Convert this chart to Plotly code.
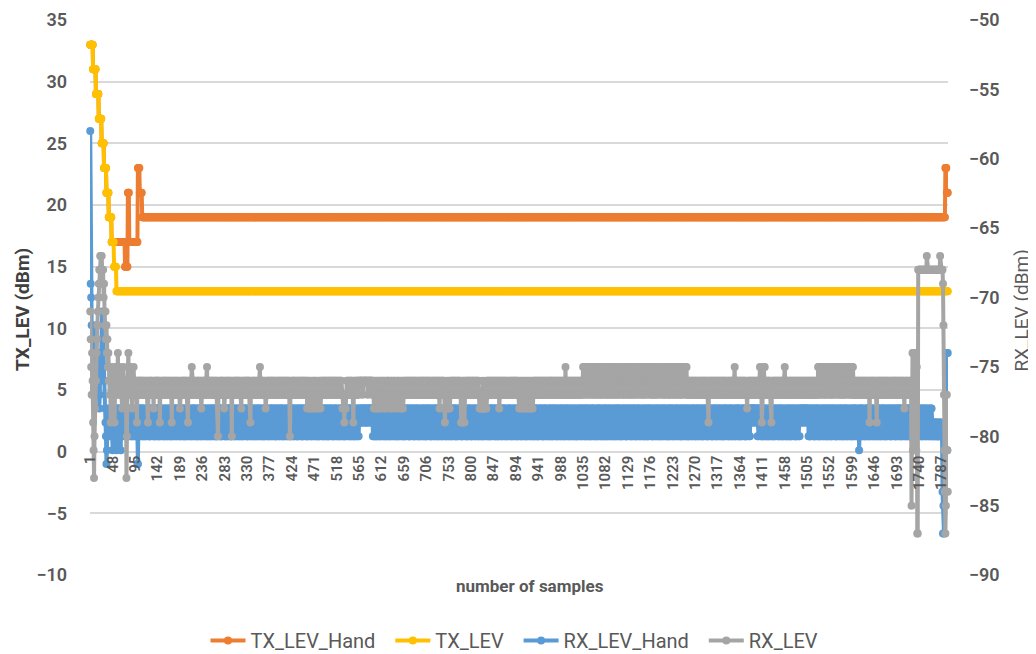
import plotly.graph_objects as go

# TX levels (left axis) as (value, number of samples) runs
TX_LEV_HAND_RUNS = [(33, 6), (31, 6), (29, 6), (27, 6), (25, 5), (23, 5), (21, 5), (19, 6),
                    (17, 28), (15, 6), (21, 3), (17, 18), (23, 4), (21, 5), (19, 1685),
                    (23, 3), (21, 3)]
TX_LEV_RUNS = [(33, 6), (31, 6), (29, 6), (27, 6), (25, 5), (23, 5), (21, 5), (19, 6),
               (17, 5), (15, 5), (13, 1745)]

# RX levels (right axis), one char per sample: dBm = -52 - int(char, 36)
# e.g. o=-76, p=-77, q=-78, r=-79, s=-80
RX_LEV_HAND_CODES = (
    "6hikl mlnom nlkmo pnmoq pnomk jklnm oqrsu trqsr qrsqp qstrq",
    "qrsqr tsqrq sqrst rqsrq qrsrq sqrsq rsrqs qrsqs rsqrs qsrqu",
    "urqsq sqrqs qsqsr sqsrq qrsqs sqsqr rqsqs sqrsq qsqrs sqsqr",
    "qsrqs sqrsq rsqsr qsqrs sqsqr srqsq qsrsq rqsqs sqrqs qsrsq",
    "sqsrq qsqsr rsqsq sqrqs qsrqs srqsq qsqsr sqrsq qsrqs rsqsq",
    "rsqsq sqrqs qsqsr sqsrq qrsqs sqsqr rqsqs sqrsq qsqrs sqsqr",
    "qsqsr sqrqs rsqsq qsrsq sqsqr qrsqs sqsqr rsqsq qsrqs sqrsq",
    "sqrsq qsrqs rsqsq sqsrq qsqsr sqrsq qsqrs rqsqs sqsqr qsrsq",
    "qsqrs sqsqr rsqsq qsrqs sqrsq qsqsr rqsqs sqsrq qrsqs sqsqr",
    "rqsqs sqsrq qsqsr sqrsq qsrqs rsqsq sqsqr qrsqs sqrqs qsqsr",
    "sqsqr qrsqs sqrsq qsqsr rsqsq sqrqs qsrsq sqsqr rqsqs qsrqs",
    "qsrqs sqrsq rsqsr qrqrq rqrqq rqrqr qrqrq qqrqr qrqsq sqsrs",
    "qsqsr rsqsq sqrqs qsrqs srqsq qsqsr sqrsq qsrqs rsqsq sqsrq",
    "sqrqs qsqsr sqsrq qrsqs sqsqr rqsqs sqrsq qsqrs sqsqr rsqsq",
    "qsrsq sqsqr qrsqs sqsqr rsqsq qsrqs sqrsq qsqsr sqrqs rsqsq",
    "rsqsq qsrsq sqrqs qsqsr sqsrq qrsqs sqsqr rqsqs sqrsq qsqrs",
    "sqsqr qsrsq rqsqs sqrqs qsqsr sqsrq qsrqs rsqsq sqsqr qrsqs",
    "qsqrs sqsqr rsqsq sqrqs qsrqs srqsq qsqsr sqrsq qsrqs rsqsq",
    "rqsqs sqrsq qsqrs sqsqr rsqsq qsrqs sqrsq qsqsr sqsrq qrsqs",
    "sqsrq qsqsr rsqsq qsrsq sqsqr qrsqs sqrqs rsqsq qsrqs sqrsq",
    "qsrqs sqrsq rsqsr qsqrs sqsqr srqsq qsrsq rqsqs sqrqs qsrsq",
    "sqsrq qsqsr rsqsq sqrqs qsrqs srqsq qsqsr sqrsq qsrqs rsqsq",
    "rsqsq sqrqs qsqsr sqsrq qrsqs sqsqr rqsqs sqrsq qsqrs sqsqr",
    "qsqsr sqrqs rsqsq qsrsq sqsqr qrsqs sqsqr rsqsq qsrqs sqrsq",
    "sqrsq qsrqs rsqsq sqsrq qsqsr sqrsq qsqrs rqsqs sqsqr qsrsq",
    "qsqrs sqsqr rsqsq qsrqs sqrsq qsqsr rqsqs sqsrq qrsqs sqsqr",
    "rqsqs sqsrq qsqsr sqrsq qsrqs rsqsq sqsqr qrsqs sqrqs qsqsr",
    "rsqsq sqrqs qsqsr sqsrq qrsqs sqsqr rqsqs qrqrq rqqrq qrqrq",
    "sqsqr qrsqs sqrsq qsqsr rsqsq sqrqs qsrsq sqsqr rqsqs qsrqs",
    "qsqsr sqrqs rsqsq qsrsq sqsqr qrsqs sqsqr rsqsq qrqrq rqrqq",
    "qrqrq rqsqs sqsqr rqsqs sqrsq qsqrs sqsqr rsqsq qsrqs sqrsq",
    "qsrsq sqsqr qrsqs sqsqr rsqsq qsrqs sqrsq qsqsr sqrqs rsqsq",
    "sqsrq qsqsr rsqtq sqrqs qsrqs srqsq qsqsr sqrsq qsrqs rsqsq",
    "rsqsq qsrsq sqrqs qsqsr sqsrq qrsqs sqsqr rqsqs sqrsq qsqrs",
    "qsqsr sqrqs rsqsq qsrsq sqsqr qrsqs sqsqr rsqsq qsrqs sqrsq",
    "qsqsr sqrqs rsqsq qsrsr srsrs rsrss srsrs rsswz xzwxt mtmtm",
)
RX_LEV_CODES = (
    "jlnpm ortvs qooml kjihg gffgf ghgih jkjlk mlnmo nporp opnop",
    "orpon opomo ponop opqon opopo pvson mopon opoqp onopo popro",
    "opopo poopo popop oppop orpop opoop popqo popop oopop orpop",
    "popop opoop popop oppoo prpop opopo ppopo popqp opopo poopo",
    "popop ropop opono popop oppop opopo popqo popop opopo npopo",
    "opopo poopp opopo popsp opopo popop oqpop opopo popop opsop",
    "popop opopo oppop opqop popop opopo poopo prpop opopo popop",
    "opopo pnpop opopo popqp opopo popop opoop popop oppop opopo",
    "popop opopo popop opops popop opoop popop oppop opopo popop",
    "opopo qpoqp opqpo pqpop oqpop qpopq popqo popop opopo popop",
    "opopo popop oopop opopo popop opopq pqprq pqpop opopo popop",
    "oprpo popop opopo ooooo opooo ooooo oopoo ooooo opopo qpopq",
    "popqo pqpop opqpo popqp oqpop opopq popop qpopo pqpop opopq",
    "popqo pqpop opopo popop opoop popop opopo poppo popop opopo",
    "popop opopo popop oppop opopo popop opoqo popop opoqr qpqop",
    "pqpoq popop opopo popop opopo poprp orpop rpopo popop opopo",
    "popop opopo popop opqpq pqpoq pqpqp oqpop opopo popop opopo",
    "popop opoqo popop opopo popop oppop opopo popop opoop popop",
    "qpoqp opqpo qpopq popqo pqpop qpoqp opopo popop opopo popop",
    "opopo popop opopo poopo popop opopo popop opopo popop opnpo",
    "popop opopo popop opopo popop opopo popon onopn onpno nopon",
    "onpon opnon ponop nonpo onopn ponon opnop nopon onpno ponop",
    "nopon onpno ponon opnop nonpo onopn ponop nopno onpon opnon",
    "ponon opnop nopon onpno nonpo onopn ponop nopon opnon onpno",
    "onopn ponon opnop nonpo nopon onpno ponop nonpo opnon onpon",
    "onpop opopo popop opopo popop oppop opopo popop opopo porpo",
    "popop opopo popop opoop popop opopo popop oppop opopo popop",
    "opnpo popop opopo popop opopo popqp opopo popop opopo popop",
    "opopo npopr opono npopo popop opopr popop opopo popop opopo",
    "popop opnop popop opopo popop opoop popop opopo popop opopo",
    "popop opopo popop opopo popop opnon ponop nonpo onopn ponon",
    "opnop nopon onpno nonpo onopn ponop nopon opnon onpno ponop",
    "nopop opopo popop opopo popop opopo popop ropop opopo popop",
    "ropop opopo popop opopo popop oppop opopo popop opopo popop",
    "opopo popqo popop oppop opoxp mtmsm tmptn zzggg ggggg ggggg",
    "ggggg fgggg ggggg ggggg ggggg ggggg gggfg ggggh kptwz xtptw",
)

X_TICKS = [1, 48, 95, 142, 189, 236, 283, 330, 377, 424, 471, 518, 565, 612, 659, 706,
           753, 800, 847, 894, 941, 988, 1035, 1082, 1129, 1176, 1223, 1270, 1317, 1364,
           1411, 1458, 1505, 1552, 1599, 1646, 1693, 1740, 1787]


def expand(runs):
    out = []
    for v, n in runs:
        out += [v] * n
    return out


def decode(lines):
    s = "".join(lines).replace(" ", "")
    return [-52 - int(c, 36) for c in s]


tx_hand = expand(TX_LEV_HAND_RUNS)
tx = expand(TX_LEV_RUNS)
rx_hand = decode(RX_LEV_HAND_CODES)
rx = decode(RX_LEV_CODES)
assert len(tx_hand) == len(tx) == len(rx_hand) == len(rx) == 1800, (len(rx_hand), len(rx))
x = list(range(1, 1801))

fig = go.Figure()
series = [
    ('TX_LEV_Hand', tx_hand, '#ED7D31', 'y'),
    ('TX_LEV', tx, '#FFC000', 'y'),
    ('RX_LEV_Hand', rx_hand, '#5B9BD5', 'y2'),
    ('RX_LEV', rx, '#A5A5A5', 'y2'),
]
for name, y, col, ax in series:
    fig.add_trace(go.Scatter(x=x, y=y, name=name + '\u00a0\u00a0', yaxis=ax,
                             mode='lines+markers',
                             line=dict(color=col, width=4),
                             marker=dict(color=col, size=8),
                             cliponaxis=False))

grey = '#595959'
tick_font = dict(size=18, color=grey, weight=600)
# the page body adds an 8 px offset, so the figure is 8 px smaller here
fig.update_layout(
    width=1028, height=646,
    margin=dict(l=82, r=88, t=12, b=79, autoexpand=False),
    paper_bgcolor='white', plot_bgcolor='white',
    font=dict(family='Roboto, Liberation Sans, sans-serif', color=grey),
    legend=dict(orientation='h', x=0.5, xanchor='center', y=-0.118, yanchor='middle',
                font=dict(size=20, color=grey), itemwidth=35),
    xaxis=dict(range=[0.5, 1800.5], tickmode='array', tickvals=X_TICKS,
               ticktext=[str(v) for v in X_TICKS], tickangle=-90,
               tickfont=dict(size=15, color=grey, weight=600), showgrid=False,
               zeroline=False, showline=False, ticks='', anchor='free',
               position=10 / 45, automargin=False),
    yaxis=dict(range=[-10, 35], dtick=5, gridcolor='#d9d9d9', gridwidth=1.5,
               zeroline=False, showline=False, tickfont=tick_font,
               ticklabelstandoff=22, ticklabeloverflow='allow', automargin=False),
    yaxis2=dict(range=[-90, -50], dtick=5, overlaying='y', side='right', showgrid=False,
                zeroline=False, showline=False, tickfont=tick_font,
                ticklabelstandoff=20, ticklabeloverflow='allow', automargin=False),
    annotations=[
        dict(text='<b>TX_LEV (dBm)</b>', xref='paper', yref='paper', x=-0.079, y=0.478,
             xanchor='center', yanchor='middle', textangle=-90, showarrow=False,
             font=dict(size=19, color='#404040')),
        dict(text='RX_LEV (dBm)', xref='paper', yref='paper', x=1.086, y=0.476,
             xanchor='center', yanchor='middle', textangle=-90, showarrow=False,
             font=dict(size=19, color=grey)),
        dict(text='<b>number of samples</b>', xref='paper', yref='paper', x=0.513, y=-0.02,
             xanchor='center', yanchor='middle', showarrow=False,
             font=dict(size=17, color=grey)),
    ],
)

fig.write_html("out.html")
